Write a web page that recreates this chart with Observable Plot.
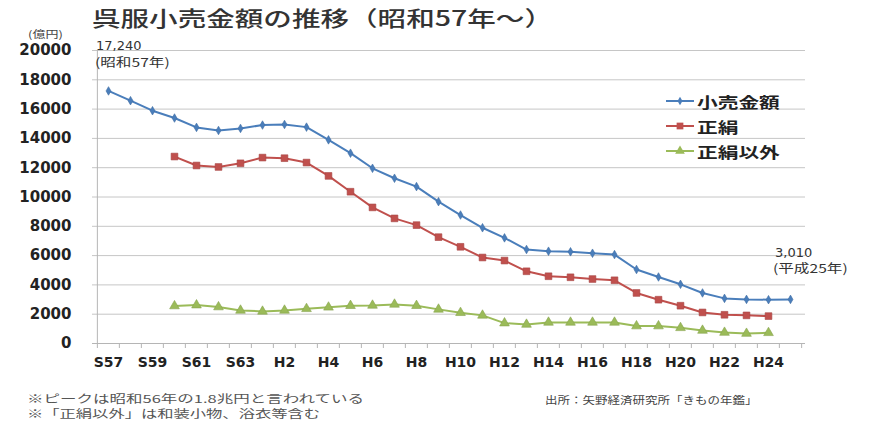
<!DOCTYPE html>
<html><head><meta charset="utf-8">
<script src="https://cdn.jsdelivr.net/npm/d3@7"></script>
<script src="https://cdn.jsdelivr.net/npm/@observablehq/plot@0.6"></script>
<style>
body{margin:0;background:#fff;}
#wrap{position:relative;width:874px;height:423px;overflow:hidden;font-family:"Noto Sans CJK JP",sans-serif;}
#wrap svg.plot{position:absolute;left:0;top:0;}
.t{position:absolute;white-space:nowrap;line-height:1;transform-origin:0 50%;}
</style></head><body><div id="wrap"></div>
<script>
const categories = ["S57","S58","S59","S60","S61","S62","S63","H1","H2","H3","H4","H5","H6","H7","H8","H9","H10","H11","H12","H13","H14","H15","H16","H17","H18","H19","H20","H21","H22","H23","H24","H25"];
const xTickLabels = ["S57","S59","S61","S63","H2","H4","H6","H8","H10","H12","H14","H16","H18","H20","H22","H24"];
const yTicks = [0,2000,4000,6000,8000,10000,12000,14000,16000,18000,20000];
const retail = [17240,16575,15890,15390,14750,14540,14680,14910,14950,14770,13900,12990,11960,11280,10710,9680,8770,7900,7210,6415,6300,6260,6160,6070,5050,4540,4040,3450,3080,3010,2990,3010];
const silk = [null,null,null,12760,12150,12050,12300,12690,12650,12350,11440,10360,9290,8540,8080,7260,6600,5870,5660,4930,4590,4520,4400,4315,3450,2990,2580,2120,1960,1920,1870,null];
const nonSilk = [null,null,null,2560,2620,2490,2260,2190,2260,2370,2470,2580,2600,2670,2580,2330,2100,1920,1390,1300,1440,1440,1440,1440,1190,1190,1070,890,750,680,730,null];
const seriesNames = ["小売金額","正絹","正絹以外"];
const colors = ["#4a7ebb","#c0504d","#9bbb59"];
const symbols = ["diamond","square","triangle"];
const radii = [2.6,3.8,3.6];

const W=874,H=423,mL=92,mR=69,mT=50,mB=80;
const step=(W-mL-mR)/categories.length;
const toRows = arr => categories.map((c,i)=>({cat:c,v:arr[i]})).filter(d=>d.v!=null);
const allSeries=[retail,silk,nonSilk];

const marks=[
  Plot.gridY(yTicks,{stroke:"#c6c6c6",strokeOpacity:1}),
  Plot.ruleX([categories[0]],{dx:-step/2,stroke:"#b5b5b5"}),
  Plot.ruleY([0],{stroke:"#b5b5b5"}),
  Plot.axisX(categories,{tickSize:5,tickFormat:()=>"",label:null,dx:-step/2,stroke:"#b5b5b5"}),
  Plot.axisX([categories[categories.length-1]],{tickSize:5,tickFormat:()=>"",label:null,dx:step/2,stroke:"#b5b5b5"}),
  Plot.axisX(xTickLabels,{tickSize:0,tickPadding:14,label:null,fontSize:14,fontWeight:"bold",fill:"#222",fontFamily:"DejaVu Sans"}),
  Plot.axisY(yTicks,{tickSize:0,tickPadding:21,label:null,fontSize:15,fontWeight:"bold",fill:"#222",fontFamily:"DejaVu Sans",tickFormat:d=>String(d)})
];
allSeries.forEach((s,i)=>{
  marks.push(Plot.line(toRows(s),{x:"cat",y:"v",stroke:colors[i],strokeWidth:2}));
  marks.push(Plot.dot(toRows(s),{x:"cat",y:"v",symbol:symbols[i],r:radii[i],fill:colors[i],stroke:d3.color(colors[i]).darker(0.4).formatHex(),strokeWidth:0.6}));
});

const chart=Plot.plot({
  width:W,height:H,marginLeft:mL,marginRight:mR,marginTop:mT,marginBottom:mB,
  style:{fontFamily:"DejaVu Sans",background:"transparent"},
  x:{type:"point",domain:categories,padding:0.5,axis:null,label:null},
  y:{domain:[0,20000],axis:null,label:null},
  marks
});
chart.classList.add("plot");
const wrap=document.getElementById("wrap");
wrap.appendChild(chart);

function addText(txt,left,cy,size,scale,opts={}){
  const d=document.createElement("div");
  d.className="t";d.textContent=txt;
  d.style.left=left+"px";d.style.top=(cy-size/2)+"px";
  d.style.fontSize=size+"px";d.style.transform=`scaleX(${scale})`;
  d.style.color=opts.color||"#333";
  if(opts.weight)d.style.fontWeight=opts.weight;
  if(opts.family)d.style.fontFamily=opts.family;
  wrap.appendChild(d);return d;
}
addText("呉服小売金額の推移（昭和57年～）",92,17,21,1.36,{color:"#333",weight:"500"});
addText("(億円)",28,34,10,1.3,{color:"#444"});
addText("17,240",96,45,13,1.0,{color:"#333",family:"DejaVu Sans"});
addText("(昭和57年)",95,62,12,1.3,{color:"#333"});
addText("3,010",775,252,13,1.0,{color:"#333",family:"DejaVu Sans"});
addText("(平成25年)",773,268,12,1.3,{color:"#333"});
addText("※ピークは昭和56年の1.8兆円と言われている",27,398,11,1.5,{color:"#555"});
addText("※「正絹以外」は和装小物、浴衣等含む",27,413,11,1.48,{color:"#555"});
addText("出所：矢野経済研究所「きもの年鑑」",545,400,10,1.25,{color:"#444"});

// legend
const legendY=[101,126,151];
seriesNames.forEach((n,i)=>{
  const ns="http://www.w3.org/2000/svg";
  const s=document.createElementNS(ns,"svg");
  s.setAttribute("width",28);s.setAttribute("height",12);
  s.style.position="absolute";s.style.left="666px";s.style.top=(legendY[i]-6)+"px";
  const l=document.createElementNS(ns,"line");
  l.setAttribute("x1",0);l.setAttribute("x2",28);l.setAttribute("y1",6);l.setAttribute("y2",6);
  l.setAttribute("stroke",colors[i]);l.setAttribute("stroke-width",2);
  s.appendChild(l);
  const p=document.createElementNS(ns,"path");
  const sym={diamond:d3.symbolDiamond,square:d3.symbolSquare,triangle:d3.symbolTriangle}[symbols[i]];
  p.setAttribute("d",d3.symbol(sym,Math.PI*radii[i]*radii[i])());
  p.setAttribute("transform","translate(14,6)");
  p.setAttribute("fill",colors[i]);
  s.appendChild(p);
  wrap.appendChild(s);
  addText(n,697,legendY[i],15,1.38,{color:"#222",weight:"bold"});
});
</script></body></html>
